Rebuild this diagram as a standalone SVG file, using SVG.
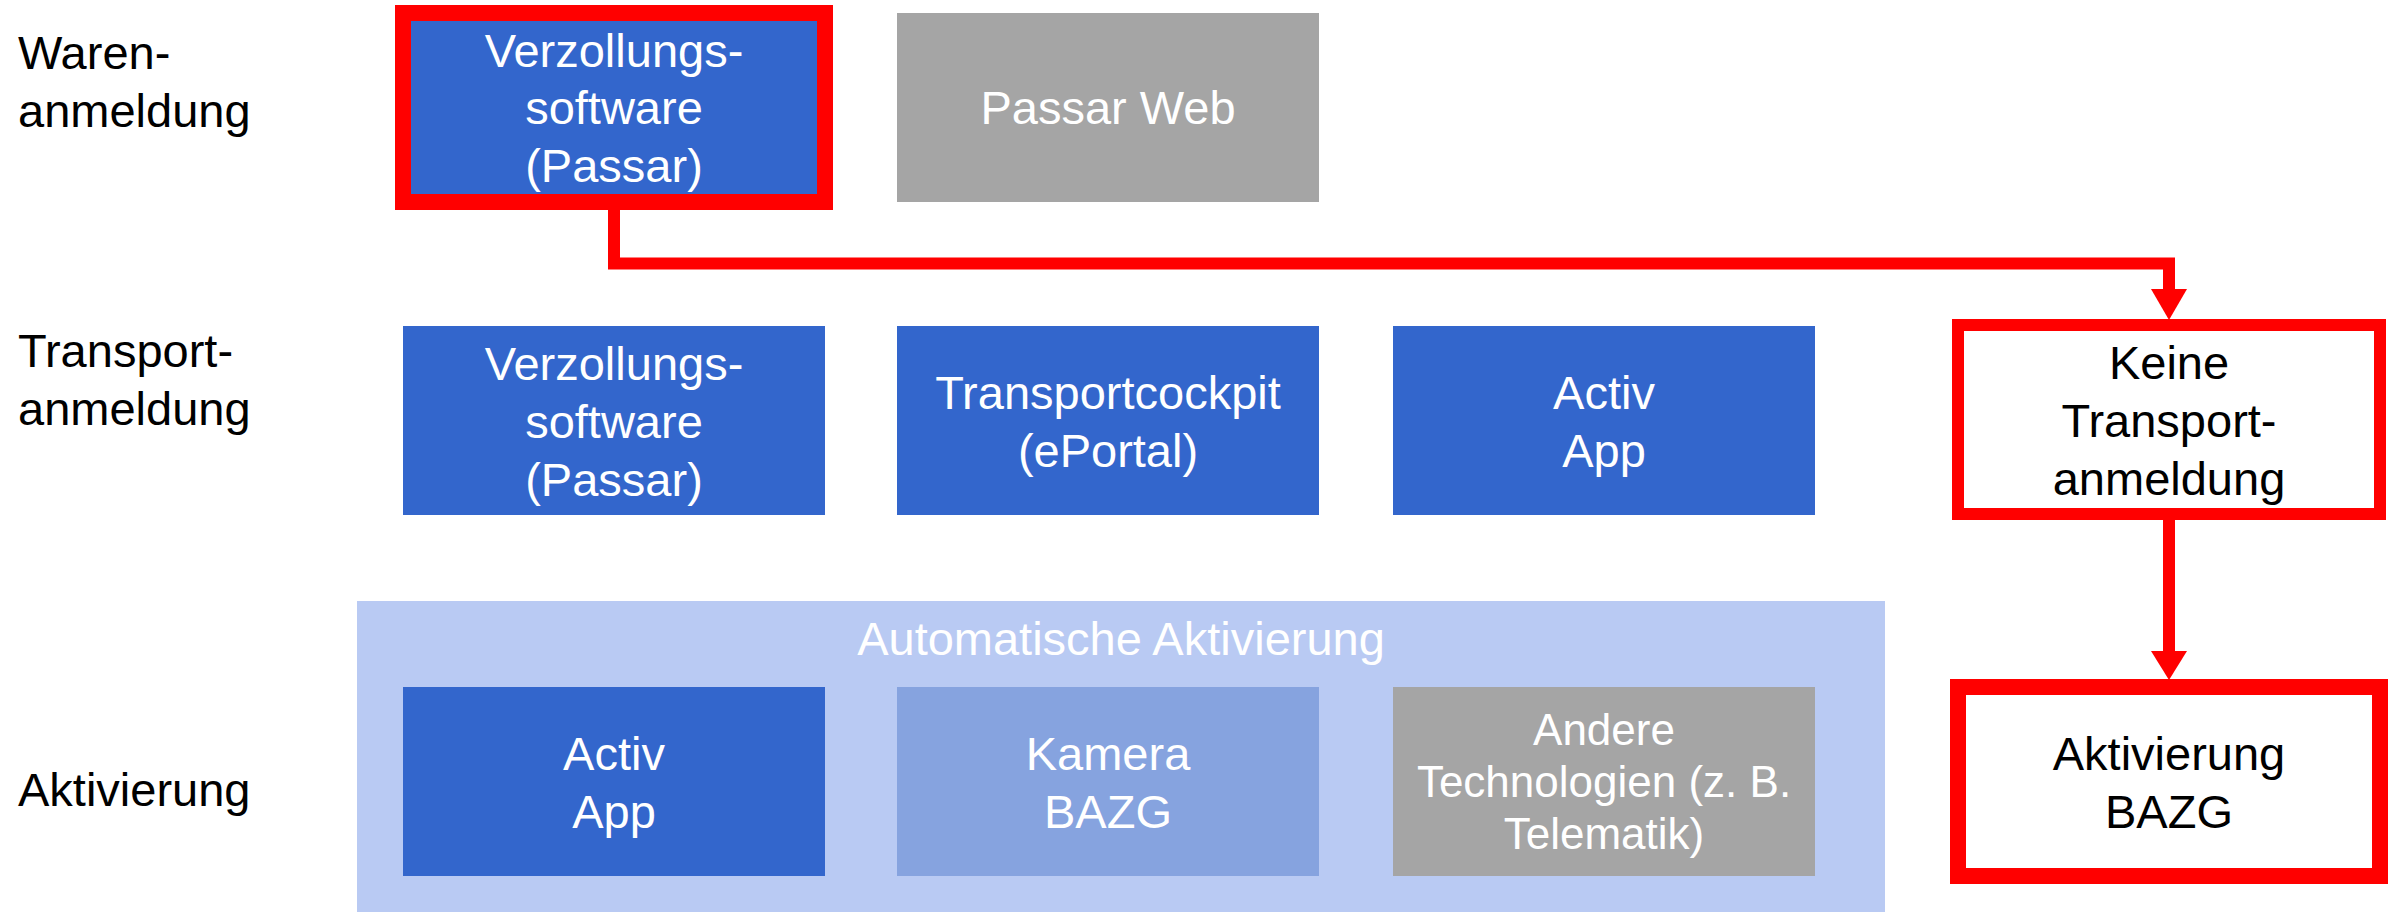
<svg xmlns="http://www.w3.org/2000/svg" width="2403" height="912" viewBox="0 0 2403 912">
<defs>
<style>
.t{font-family:"Liberation Sans",Arial,sans-serif;font-size:47px}
.s{font-size:44px}
.w{fill:#ffffff;text-anchor:middle}
.k{fill:#000000}
.kc{fill:#000000;text-anchor:middle}
.blue{fill:#3366CC}
.grey{fill:#A5A5A5}
.cam{fill:#86A3DF}
.panel{fill:#B9CAF3}
.red{fill:none;stroke:#FF0000}
.conn{fill:none;stroke:#FF0000;stroke-width:12;stroke-linejoin:miter}
.head{fill:#FF0000}
</style>
</defs>
<rect width="2403" height="912" fill="#ffffff"/>

<g id="labels">
<text class="t k" x="18" y="69">Waren-</text>
<text class="t k" x="18" y="127">anmeldung</text>
<text class="t k" x="18" y="367">Transport-</text>
<text class="t k" x="18" y="425">anmeldung</text>
<text class="t k" x="18" y="806">Aktivierung</text>
</g>

<g id="panel-auto">
<rect class="panel" x="357" y="601" width="1528" height="311"/>
<text class="t w" x="1121" y="655">Automatische Aktivierung</text>
</g>

<g id="node-passar-1">
<rect class="blue" x="403" y="13" width="422" height="189"/>
<text class="t w" x="614" y="67">Verzollungs-</text>
<text class="t w" x="614" y="124">software</text>
<text class="t w" x="614" y="182">(Passar)</text>
<rect class="red" x="403" y="13" width="422" height="189" stroke-width="16"/>
</g>

<g id="node-passar-web">
<rect class="grey" x="897" y="13" width="422" height="189"/>
<text class="t w" x="1108" y="124">Passar Web</text>
</g>

<g id="node-passar-2">
<rect class="blue" x="403" y="326" width="422" height="189"/>
<text class="t w" x="614" y="380">Verzollungs-</text>
<text class="t w" x="614" y="438">software</text>
<text class="t w" x="614" y="496">(Passar)</text>
</g>

<g id="node-transportcockpit">
<rect class="blue" x="897" y="326" width="422" height="189"/>
<text class="t w" x="1108" y="409">Transportcockpit</text>
<text class="t w" x="1108" y="467">(ePortal)</text>
</g>

<g id="node-activ-1">
<rect class="blue" x="1393" y="326" width="422" height="189"/>
<text class="t w" x="1604" y="409">Activ</text>
<text class="t w" x="1604" y="467">App</text>
</g>

<g id="node-activ-2">
<rect class="blue" x="403" y="687" width="422" height="189"/>
<text class="t w" x="614" y="770">Activ</text>
<text class="t w" x="614" y="828">App</text>
</g>

<g id="node-kamera">
<rect class="cam" x="897" y="687" width="422" height="189"/>
<text class="t w" x="1108" y="770">Kamera</text>
<text class="t w" x="1108" y="828">BAZG</text>
</g>

<g id="node-andere">
<rect class="grey" x="1393" y="687" width="422" height="189"/>
<text class="t s w" x="1604" y="745">Andere</text>
<text class="t s w" x="1604" y="797">Technologien (z. B.</text>
<text class="t s w" x="1604" y="849">Telematik)</text>
</g>

<g id="node-keine">
<rect x="1958" y="325" width="422" height="189" fill="#ffffff"/>
<rect class="red" x="1958" y="325" width="422" height="189" stroke-width="12"/>
<text class="t kc" x="2169" y="379">Keine</text>
<text class="t kc" x="2169" y="437">Transport-</text>
<text class="t kc" x="2169" y="495">anmeldung</text>
</g>

<g id="node-aktivierung-bazg">
<rect x="1958" y="687" width="422" height="189" fill="#ffffff"/>
<rect class="red" x="1958" y="687" width="422" height="189" stroke-width="16"/>
<text class="t kc" x="2169" y="770">Aktivierung</text>
<text class="t kc" x="2169" y="828">BAZG</text>
</g>

<g id="connectors">
<path class="conn" d="M614,210 V263.5 H2169 V292"/>
<path class="head" d="M2151,289 L2187,289 L2169,320 Z"/>
<path class="conn" d="M2169,520 V654"/>
<path class="head" d="M2151,651 L2187,651 L2169,680 Z"/>
</g>
</svg>
